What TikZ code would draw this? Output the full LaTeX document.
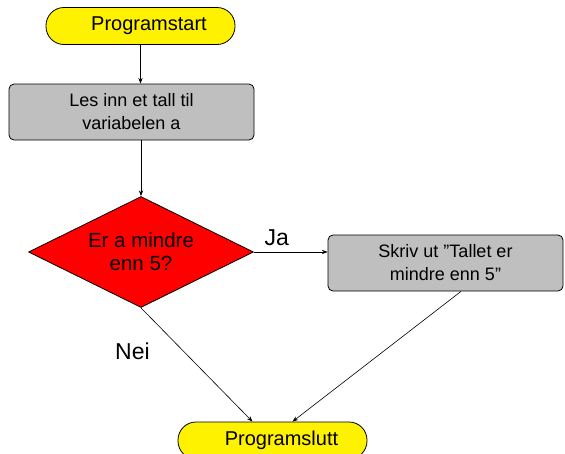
\documentclass[tikz,border=0pt]{standalone}
\usepackage{fontspec}
\setmainfont{Liberation Sans}
\usetikzlibrary{arrows.meta,shapes.geometric}
\tikzset{>=Stealth}
\tikzset{
    terminal/.style={draw, line width=0.8pt, fill=yellow, rounded corners=18pt,
        minimum width=189pt, minimum height=37pt, font=\fontsize{20}{23}\selectfont},
    process/.style={draw, line width=0.8pt, fill=gray!50, rounded corners=5pt,
        minimum height=56pt, align=center, font=\fontsize{18}{23}\selectfont},
    decision/.style={draw, line width=0.8pt, fill=red, diamond, aspect=2.03, minimum width=225pt,
        minimum height=111pt, inner sep=0pt, align=center, font=\fontsize{20.5}{23}\selectfont},
    answer/.style={font=\fontsize{23}{26}\selectfont}
}

\begin{document}
\begin{tikzpicture}[x=1pt,y=-1pt]
    \useasboundingbox (0,0) rectangle (565,453);
    \clip (0,0) rectangle (565,453);
    \node[terminal] at (140.5,26) (start) {\hspace*{17pt}Programstart};
    \node[process, minimum width=245pt] at (131.5,112) (readnum) {Les inn et tall til\\variabelen a};
    \node[decision] at (141,252) (lessfive) {Er a mindre\\enn 5?};
    \node[process, minimum width=235pt] at (445.5,263) (printmsg) {Skriv ut ''Tallet er\\mindre enn 5''};
    \node[terminal] at (272.5,440.5) (stop) {\hspace*{18pt}Programslutt};
    \path[->, line width=0.6pt]
    (start) edge (start |- readnum.north)
    (readnum.south -| lessfive.north) edge (lessfive.north)
    (lessfive.east) edge node[answer, above, pos=0.31, yshift=3pt] {Ja} (lessfive.east -| printmsg.west)
    (lessfive.south) edge node[answer, left=30pt, pos=0.38] {Nei} ([xshift=-20pt]stop.north)
    ([xshift=15.5pt]printmsg.south) edge ([xshift=20pt]stop.north)
    ;
\end{tikzpicture}
\end{document}
